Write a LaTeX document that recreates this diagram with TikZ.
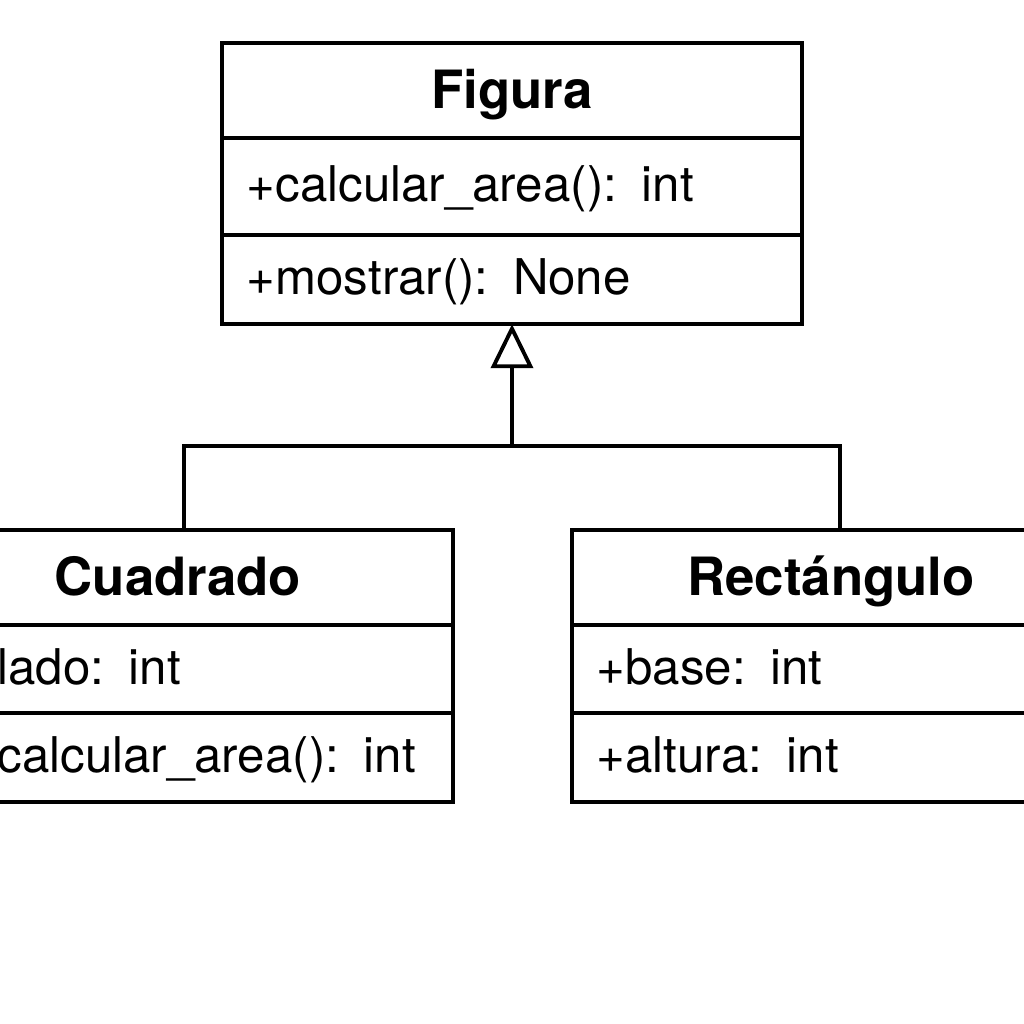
\documentclass[tikz,border=0pt]{standalone}
\usepackage{fontspec}
\setmainfont{TeX Gyre Heros}
\usetikzlibrary{arrows.meta, positioning}

\tikzset{
    classtitle/.style={draw, line width=1.1pt, outer sep=0pt, inner sep=0pt, minimum height=0.95cm,
        font=\fontsize{15}{18}\selectfont\bfseries, text height=11pt, text depth=1pt},
    member/.style={draw, line width=1.1pt, outer sep=0pt, inner xsep=0.25cm, inner ysep=0pt, align=left,
        font=\fontsize{14}{17}\selectfont, text height=10pt, text depth=1.5pt},
    inherit/.style={line width=1.1pt, -{Triangle[open, length=0.44cm, width=0.42cm]}}
}

\begin{document}
\begin{tikzpicture}[x=0.01cm, y=-0.01cm]
    \useasboundingbox (0,0) rectangle (1024,1024);
    \clip (0,0) rectangle (1024,1024);

    % Figura: base class
    \node[classtitle, minimum width=5.8cm] (figTitle) at (512,90.5) {Figura};
    \node[member, text width=5.3cm, minimum height=0.97cm, below=0pt of figTitle] (figAttr) {+calcular\_area(): int};
    \node[member, text width=5.3cm, minimum height=0.89cm, below=0pt of figAttr] (figMeth) {+mostrar(): None};

    % Cuadrado (cut at the left edge)
    \node[classtitle, minimum width=5.5cm] (cuaTitle) at (178,577.5) {Cuadrado};
    \node[member, text width=4.59cm, minimum height=0.88cm, below left=0pt of cuaTitle.south east] (cuaAttr) {+lado: int};
    \node[member, text width=4.59cm, minimum height=0.89cm, below=0pt of cuaAttr] (cuaMeth) {+calcular\_area(): int};

    % Rectangulo (cut at the right edge)
    \node[classtitle, minimum width=5.18cm] (recTitle) at (831,577.5) {Rectángulo};
    \node[member, text width=4.88cm, minimum height=0.88cm, below right=0pt of recTitle.south west] (recAttr) {+base: int};
    \node[member, text width=4.88cm, minimum height=0.89cm, below=0pt of recAttr] (recMeth) {+altura: int};

    % Inheritance
    \coordinate (joint) at (512,446);
    \coordinate (cuaTop) at (184,530);
    \coordinate (recTop) at (840,530);
    \draw[line width=1.1pt] (cuaTop) |- (joint) -| (recTop);
    \draw[inherit] (joint) -- (figMeth);
\end{tikzpicture}
\end{document}
